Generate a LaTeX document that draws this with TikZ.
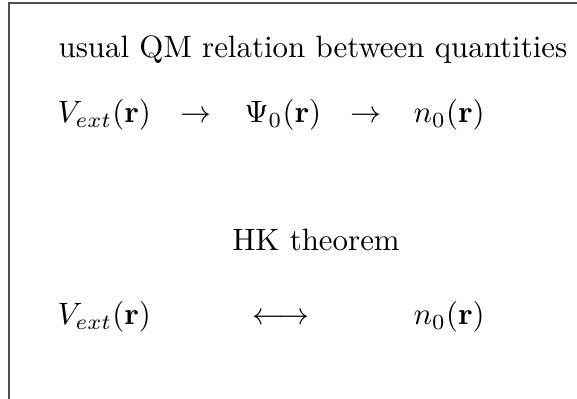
\documentclass[tikz,border=0pt]{standalone}
\usepackage{amsmath}
\usepackage{amssymb}
\usepackage{tikz}
\usetikzlibrary{calc}
\definecolor{FrameGray}{RGB}{80,80,80}

\begin{document}
\begin{tikzpicture}[
    x=0.3236pt, y=-0.3236pt,
    txt/.style={anchor=base west, inner sep=0pt, font=\normalsize},
    sym/.style={anchor=base, inner sep=0pt, font=\normalsize},
    frame/.style={draw=FrameGray, line width=0.35pt}
]
\useasboundingbox (0,0) rectangle (577,399);

% frame (only left and top edges are visible)
\coordinate (fbl) at (9,399);
\coordinate (ftl) at (9,3);
\coordinate (ftr) at (577,3);
\draw[frame] (fbl) -- (ftl) -- (ftr);

% usual relation
\node[txt] (title) at (58,58) {usual QM relation between quantities};
\node[txt] (v1) at (57,123) {$V_{ext}(\mathbf{r})$};
\node[sym] (a1) at (196,123) {$\rightarrow$};
\node[txt] (psi) at (244,123) {$\Psi_0(\mathbf{r})$};
\node[sym] (a2) at (366,123) {$\rightarrow$};
\node[txt] (n1) at (413,123) {$n_0(\mathbf{r})$};

% HK theorem
\node[sym] (hk) at (316,251) {HK theorem};
\node[txt] (v2) at (57,325) {$V_{ext}(\mathbf{r})$};
\node[sym] (a3) at (281,325) {$\longleftrightarrow$};
\node[txt] (n2) at (413,325) {$n_0(\mathbf{r})$};
\end{tikzpicture}
\end{document}
